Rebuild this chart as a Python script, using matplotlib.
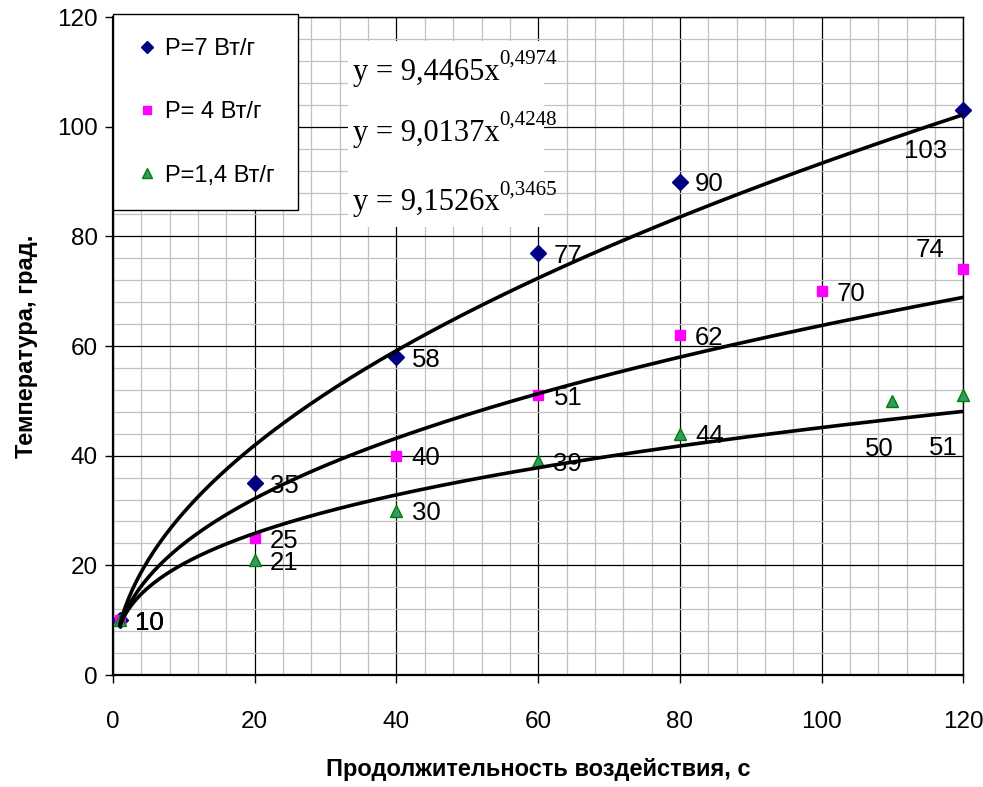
import numpy as np
import matplotlib.pyplot as plt
from matplotlib.lines import Line2D
from matplotlib.patches import Rectangle
from matplotlib.ticker import MultipleLocator

plt.rcParams['font.family'] = ['Liberation Sans', 'DejaVu Sans']

# time, s
x7 = [1, 20, 40, 60, 80, 120]
y7 = [10, 35, 58, 77, 90, 103]
x4 = [1, 20, 40, 60, 80, 100, 120]
y4 = [10, 25, 40, 51, 62, 70, 74]
x14 = [1, 20, 40, 60, 80, 110, 120]
y14 = [10, 21, 30, 39, 44, 50, 51]

names = ['P=7 Вт/г', 'P= 4 Вт/г', 'P=1,4 Вт/г']
# power trend y = a*x^b
coef_a = [9.4465, 9.0137, 9.1526]
coef_b = [0.4974, 0.4248, 0.3465]
eq_main = ['y = 9,4465x', 'y = 9,0137x', 'y = 9,1526x']
eq_pow = ['0,4974', '0,4248', '0,3465']

fig = plt.figure(figsize=(9.83, 7.87), dpi=100)
ax = fig.add_axes([0.115, 0.1423, 0.865, 0.836])

ax.set_xlim(0, 120)
ax.set_ylim(0, 120)
ax.xaxis.set_major_locator(MultipleLocator(20))
ax.yaxis.set_major_locator(MultipleLocator(20))
ax.xaxis.set_minor_locator(MultipleLocator(4))
ax.yaxis.set_minor_locator(MultipleLocator(4))
ax.grid(which='minor', color='#c0c0c0', lw=0.9, zorder=0)
ax.grid(which='major', color='black', lw=0.9, zorder=0)
ax.set_axisbelow(True)
ax.tick_params(which='major', direction='out', length=6, width=1,
               labelsize=17.5, colors='black')
ax.tick_params(axis='x', which='major', pad=20)
ax.tick_params(axis='y', which='major', pad=5)
ax.tick_params(which='minor', length=0)
for side in ['left', 'bottom']:
    ax.spines[side].set_linewidth(1.6)
for side in ['top', 'right']:
    ax.spines[side].set_linewidth(1.0)

series = [
    (x7, y7, 'D', '#000080', '#000080', 8),
    (x4, y4, 's', '#ff00ff', '#ff00ff', 7.5),
    (x14, y14, '^', '#339966', '#008000', 9),
]
for (xs, ys, m, fc, ec, ms) in series:
    ax.plot(xs, ys, ls='none', marker=m, ms=ms, mfc=fc, mec=ec, mew=1, zorder=3,
            clip_on=False)

# label offsets (points) for points labelled away from the default spot
special = {
    (0, 5): (-12, -34, 'right'),
    (1, 6): (-14, 9, 'right'),
    (2, 5): (1, -40, 'right'),
    (2, 6): (-4, -43, 'right'),
}
for si, (xs, ys, *_rest) in enumerate(series):
    for pi, (xv, yv) in enumerate(zip(xs, ys)):
        dx, dy, ha = special.get((si, pi), (11, -7, 'left'))
        ax.annotate(str(yv), (xv, yv), xytext=(dx, dy), textcoords='offset points',
                    ha=ha, va='baseline', fontsize=18.5, zorder=2)

xf = np.linspace(1, 120, 300)
for a, b in zip(coef_a, coef_b):
    ax.plot(xf, a * xf ** b, color='black', lw=2.6, zorder=4)

# equation block
ax.add_patch(Rectangle((33.2, 81.8), 27.6, 33.8, facecolor='white', edgecolor='none',
                       zorder=1.5))
eq_y = [108.6, 97.4, 84.8]
for txt, p, yy in zip(eq_main, eq_pow, eq_y):
    t = ax.text(33.8, yy, txt, fontsize=22, family='Liberation Serif',
                ha='left', va='baseline', zorder=5)
    ax.annotate(p, xy=(1.0, 0.62), xycoords=t, fontsize=15, family='Liberation Serif',
                ha='left', va='bottom', zorder=5)

handles = [Line2D([], [], ls='none', marker=m, ms=ms * 0.8, mfc=fc, mec=ec)
           for (_, _, m, fc, ec, ms) in series]
leg = ax.legend(handles, names, loc='upper left', bbox_to_anchor=(0.0, 1.004),
                fontsize=17, frameon=True, fancybox=False, framealpha=1,
                edgecolor='black', borderpad=1.0, labelspacing=1.75,
                handlelength=0.9, handletextpad=0.3, borderaxespad=0)
leg.get_frame().set_linewidth(1.0)
leg.set_zorder(6)

ax.set_xlabel('Продолжительность воздействия, с', fontsize=17, fontweight='bold',
              labelpad=18)
ax.set_ylabel('Температура, град.', fontsize=17, fontweight='bold', labelpad=14)

fig.savefig('out.png', dpi=100)
